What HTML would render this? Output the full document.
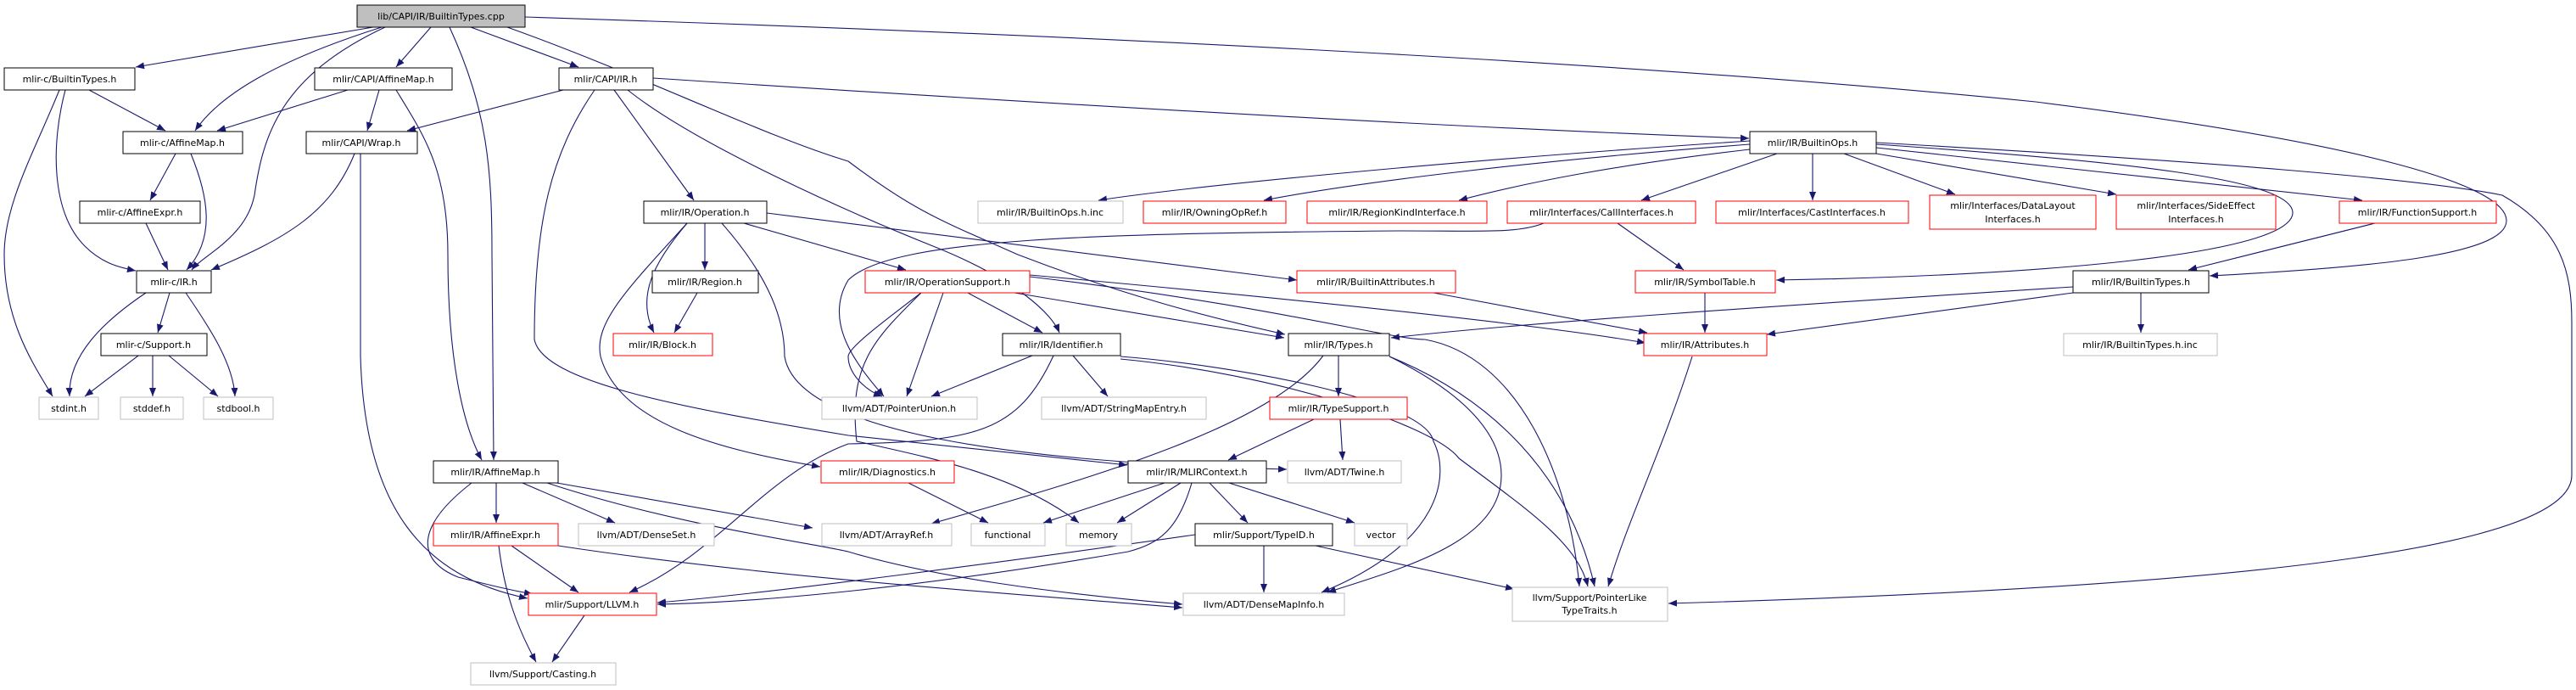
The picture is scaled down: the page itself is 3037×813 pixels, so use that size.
<!DOCTYPE html>
<html><head><meta charset="utf-8"><style>
html,body{margin:0;padding:0;background:#fff;}
svg{display:block;}
text{font-family:"DejaVu Sans","Liberation Sans",sans-serif;font-size:11px;fill:#000;text-anchor:middle;}
.e{fill:none;stroke:#191970;stroke-width:1.1;marker-end:url(#a);}
.b{fill:#fff;stroke:#000;stroke-width:1;}
.r{fill:#fff;stroke:#ff0000;stroke-width:1;}
.g{fill:#fff;stroke:#bfbfbf;stroke-width:1;}
</style></head><body>
<svg width="3037" height="813" viewBox="0 0 3037 813" xmlns="http://www.w3.org/2000/svg">
<defs><marker id="a" markerWidth="10" markerHeight="8" refX="10" refY="4" orient="auto" markerUnits="userSpaceOnUse"><path d="M0,0 L10,4 L0,8 z" fill="#191970"/></marker></defs>

<g>
<path class="e" d="M440,32 L160,79"/>
<path class="e" d="M450,32 C330,70 260,110 230,154"/>
<path class="e" d="M454,32 C330,90 310,160 300,230 C290,280 240,300 226,318"/>
<path class="e" d="M508,32 L467,79"/>
<path class="e" d="M530,32 C575,130 580,200 580,300 L582,542"/>
<path class="e" d="M555,32 L682,79"/>
<path class="e" d="M598,32 C760,90 900,160 1000,190 C1080,250 1110,260 1200,300 C1330,350 1430,375 1515,394"/>
<path class="e" d="M619,20 C1400,45 2000,80 2400,120 C2800,170 2955,220 2955,260 C2955,300 2800,315 2605,325"/>
<path class="e" d="M105,106 L195,154"/>
<path class="e" d="M77,106 C60,170 60,250 100,290 C120,310 140,315 160,319"/>
<path class="e" d="M70,106 C40,180 5,240 5,300 C5,380 40,430 62,467"/>
<path class="e" d="M410,106 L256,154"/>
<path class="e" d="M447,106 L433,154"/>
<path class="e" d="M467,106 C500,160 528,200 528,300 C528,420 545,500 568,542"/>
<path class="e" d="M664,106 L480,154"/>
<path class="e" d="M724,106 L818,236"/>
<path class="e" d="M740,106 C820,170 1000,250 1100,290 C1200,330 1240,370 1249,392"/>
<path class="e" d="M770,92 C1200,120 1700,150 2062,163"/>
<path class="e" d="M701,106 C650,180 630,260 630,400 C640,450 800,480 1000,513 C1150,530 1250,540 1329,548"/>
<path class="e" d="M418,181 C390,250 340,280 249,318"/>
<path class="e" d="M425,181 L425,420 C430,600 500,680 622,705"/>
<path class="e" d="M207,181 L177,236"/>
<path class="e" d="M225,181 C245,230 255,280 220,318"/>
<path class="e" d="M172,263 L198,318"/>
<path class="e" d="M172,345 C120,380 80,420 82,467"/>
<path class="e" d="M200,345 L186,392"/>
<path class="e" d="M219,345 C250,390 275,430 277,467"/>
<path class="e" d="M163,419 L100,467"/>
<path class="e" d="M180,419 L180,467"/>
<path class="e" d="M199,419 L257,467"/>
<path class="e" d="M831,263 L831,318"/>
<path class="e" d="M810,263 C770,310 750,350 771,392"/>
<path class="e" d="M822,345 L795,392"/>
<path class="e" d="M810,263 C740,340 700,380 708,420 C730,500 850,530 967,550"/>
<path class="e" d="M851,263 C910,330 925,380 925,420 C940,510 1200,545 1517,553"/>
<path class="e" d="M877,263 L1068,318"/>
<path class="e" d="M904,251 L1529,330"/>
<path class="e" d="M2063,166 C1700,190 1400,220 1295,236"/>
<path class="e" d="M2063,170 C1800,190 1600,215 1490,236"/>
<path class="e" d="M2063,176 C1900,195 1800,215 1720,236"/>
<path class="e" d="M2095,181 L1935,236"/>
<path class="e" d="M2137,181 L2137,236"/>
<path class="e" d="M2174,181 L2305,229"/>
<path class="e" d="M2212,181 L2495,229"/>
<path class="e" d="M2212,174 L2785,236"/>
<path class="e" d="M2212,170 C2500,190 2700,210 2703,250 C2705,300 2400,325 2094,330"/>
<path class="e" d="M2212,168 C2600,190 2850,210 2950,230 C3020,270 3032,320 3032,380 L3032,560 C3032,640 2700,690 1967,711"/>
<path class="e" d="M1907,263 L1985,318"/>
<path class="e" d="M1820,263 C1790,275 1750,272 1650,272 C1300,275 1050,280 1000,330 C970,380 1010,430 1042,467"/>
<path class="e" d="M1112,345 L1069,467"/>
<path class="e" d="M1141,345 L1229,392"/>
<path class="e" d="M1196,345 L1514,398"/>
<path class="e" d="M1214,324 C1500,350 1800,380 1940,404"/>
<path class="e" d="M1214,326 C1500,360 1640,400 1680,400 C1790,420 1850,560 1862,691"/>
<path class="e" d="M1086,345 C1040,380 1000,410 1000,420 C1000,440 1020,460 1040,467"/>
<path class="e" d="M1086,345 C1030,400 1000,430 1010,520 C1100,540 1200,560 1272,616"/>
<path class="e" d="M1217,419 L1098,467"/>
<path class="e" d="M1265,419 L1306,467"/>
<path class="e" d="M1242,419 C1200,510 1150,520 1000,523 C900,560 850,650 742,698"/>
<path class="e" d="M1321,420 C1450,430 1680,470 1690,520 C1710,560 1700,640 1558,698"/>
<path class="e" d="M1321,423 C1500,440 1690,500 1720,540 C1800,600 1860,640 1872,691"/>
<path class="e" d="M1578,419 L1578,467"/>
<path class="e" d="M1560,419 C1500,500 1300,560 1098,617"/>
<path class="e" d="M1638,420 C1760,470 1850,560 1880,691"/>
<path class="e" d="M1638,420 C1740,470 1770,520 1770,560 C1770,640 1650,670 1565,698"/>
<path class="e" d="M2444,338 C2100,360 1800,380 1640,398"/>
<path class="e" d="M2444,345 L2083,394"/>
<path class="e" d="M2524,345 L2524,392"/>
<path class="e" d="M1995,420 C1960,530 1920,610 1896,691"/>
<path class="e" d="M1690,345 L1942,392"/>
<path class="e" d="M2010,345 L2010,392"/>
<path class="e" d="M2800,263 L2580,318"/>
<path class="e" d="M1549,494 L1448,542"/>
<path class="e" d="M1580,494 L1583,542"/>
<path class="e" d="M1373,569 L1230,616"/>
<path class="e" d="M1392,569 L1317,616"/>
<path class="e" d="M1426,569 L1471,616"/>
<path class="e" d="M1449,569 L1597,616"/>
<path class="e" d="M1405,569 C1390,620 1370,640 1330,650 C1100,690 900,710 775,712"/>
<path class="e" d="M1071,569 L1165,616"/>
<path class="e" d="M1409,630 C1200,660 900,700 775,710"/>
<path class="e" d="M1490,643 L1490,698"/>
<path class="e" d="M1551,643 L1785,694"/>
<path class="e" d="M585,569 L585,616"/>
<path class="e" d="M616,569 L725,616"/>
<path class="e" d="M645,567 L958,622"/>
<path class="e" d="M645,569 C800,620 960,640 1000,650 C1100,680 1250,700 1394,712"/>
<path class="e" d="M556,569 C490,620 490,660 540,680 C580,690 600,695 628,700"/>
<path class="e" d="M603,643 L682,698"/>
<path class="e" d="M588,643 C595,700 610,740 632,780"/>
<path class="e" d="M658,643 C900,680 1200,700 1394,716"/>
<path class="e" d="M689,725 L651,780"/>
</g>

<g>
<rect x="421" y="6" width="198" height="26" fill="#bfbfbf" stroke="#000"/><text x="520" y="23">lib/CAPI/IR/BuiltinTypes.cpp</text>
<rect class="b" x="5" y="80" width="154" height="26"/><text x="82" y="97">mlir-c/BuiltinTypes.h</text>
<rect class="b" x="371" y="80" width="162" height="26"/><text x="452" y="97">mlir/CAPI/AffineMap.h</text>
<rect class="b" x="659" y="80" width="111" height="26"/><text x="714" y="97">mlir/CAPI/IR.h</text>
<rect class="b" x="145" y="155" width="141" height="26"/><text x="215" y="172">mlir-c/AffineMap.h</text>
<rect class="b" x="361" y="155" width="131" height="26"/><text x="426" y="172">mlir/CAPI/Wrap.h</text>
<rect class="b" x="2063" y="155" width="149" height="26"/><text x="2137" y="172">mlir/IR/BuiltinOps.h</text>
<rect class="b" x="94" y="237" width="142" height="26"/><text x="165" y="254">mlir-c/AffineExpr.h</text>
<rect class="b" x="759" y="237" width="145" height="26"/><text x="831" y="254">mlir/IR/Operation.h</text>
<rect class="g" x="1153" y="237" width="171" height="26"/><text x="1238" y="254">mlir/IR/BuiltinOps.h.inc</text>
<rect class="r" x="1348" y="237" width="168" height="26"/><text x="1432" y="254">mlir/IR/OwningOpRef.h</text>
<rect class="r" x="1541" y="237" width="212" height="26"/><text x="1647" y="254">mlir/IR/RegionKindInterface.h</text>
<rect class="r" x="1777" y="237" width="222" height="26"/><text x="1888" y="254">mlir/Interfaces/CallInterfaces.h</text>
<rect class="r" x="2023" y="237" width="227" height="26"/><text x="2136" y="254">mlir/Interfaces/CastInterfaces.h</text>
<rect class="r" x="2275" y="230" width="196" height="40"/><text x="2373" y="246">mlir/Interfaces/DataLayout</text><text x="2373" y="262">Interfaces.h</text>
<rect class="r" x="2495" y="230" width="188" height="40"/><text x="2589" y="246">mlir/Interfaces/SideEffect</text><text x="2589" y="262">Interfaces.h</text>
<rect class="r" x="2758" y="237" width="185" height="26"/><text x="2850" y="254">mlir/IR/FunctionSupport.h</text>
<rect class="b" x="161" y="319" width="88" height="26"/><text x="205" y="336">mlir-c/IR.h</text>
<rect class="b" x="769" y="319" width="125" height="26"/><text x="831" y="336">mlir/IR/Region.h</text>
<rect class="r" x="1020" y="319" width="194" height="26"/><text x="1117" y="336">mlir/IR/OperationSupport.h</text>
<rect class="r" x="1529" y="319" width="187" height="26"/><text x="1622" y="336">mlir/IR/BuiltinAttributes.h</text>
<rect class="r" x="1928" y="319" width="165" height="26"/><text x="2010" y="336">mlir/IR/SymbolTable.h</text>
<rect class="b" x="2444" y="319" width="160" height="26"/><text x="2524" y="336">mlir/IR/BuiltinTypes.h</text>
<rect class="b" x="119" y="393" width="125" height="26"/><text x="181" y="410">mlir-c/Support.h</text>
<rect class="r" x="723" y="393" width="117" height="26"/><text x="781" y="410">mlir/IR/Block.h</text>
<rect class="b" x="1182" y="393" width="139" height="26"/><text x="1251" y="410">mlir/IR/Identifier.h</text>
<rect class="b" x="1519" y="393" width="119" height="26"/><text x="1578" y="410">mlir/IR/Types.h</text>
<rect class="r" x="1938" y="393" width="145" height="26"/><text x="2010" y="410">mlir/IR/Attributes.h</text>
<rect class="g" x="2433" y="393" width="181" height="26"/><text x="2523" y="410">mlir/IR/BuiltinTypes.h.inc</text>
<rect class="g" x="46" y="468" width="70" height="26"/><text x="81" y="485">stdint.h</text>
<rect class="g" x="142" y="468" width="74" height="26"/><text x="179" y="485">stddef.h</text>
<rect class="g" x="240" y="468" width="82" height="26"/><text x="281" y="485">stdbool.h</text>
<rect class="g" x="969" y="468" width="183" height="26"/><text x="1060" y="485">llvm/ADT/PointerUnion.h</text>
<rect class="g" x="1228" y="468" width="194" height="26"/><text x="1325" y="485">llvm/ADT/StringMapEntry.h</text>
<rect class="r" x="1497" y="468" width="162" height="26"/><text x="1578" y="485">mlir/IR/TypeSupport.h</text>
<rect class="b" x="511" y="543" width="147" height="26"/><text x="584" y="560">mlir/IR/AffineMap.h</text>
<rect class="r" x="968" y="543" width="157" height="26"/><text x="1046" y="560">mlir/IR/Diagnostics.h</text>
<rect class="b" x="1330" y="543" width="163" height="26"/><text x="1411" y="560">mlir/IR/MLIRContext.h</text>
<rect class="g" x="1518" y="543" width="134" height="26"/><text x="1585" y="560">llvm/ADT/Twine.h</text>
<rect class="r" x="511" y="617" width="147" height="26"/><text x="584" y="634">mlir/IR/AffineExpr.h</text>
<rect class="g" x="682" y="617" width="160" height="26"/><text x="762" y="634">llvm/ADT/DenseSet.h</text>
<rect class="g" x="969" y="617" width="153" height="26"/><text x="1045" y="634">llvm/ADT/ArrayRef.h</text>
<rect class="g" x="1145" y="617" width="87" height="26"/><text x="1188" y="634">functional</text>
<rect class="g" x="1257" y="617" width="77" height="26"/><text x="1295" y="634">memory</text>
<rect class="b" x="1409" y="617" width="162" height="26"/><text x="1490" y="634">mlir/Support/TypeID.h</text>
<rect class="g" x="1597" y="617" width="62" height="26"/><text x="1628" y="634">vector</text>
<rect class="r" x="623" y="699" width="151" height="26"/><text x="698" y="716">mlir/Support/LLVM.h</text>
<rect class="g" x="1395" y="699" width="190" height="26"/><text x="1490" y="716">llvm/ADT/DenseMapInfo.h</text>
<rect class="g" x="1783" y="692" width="183" height="40"/><text x="1874" y="708">llvm/Support/PointerLike</text><text x="1874" y="723">TypeTraits.h</text>
<rect class="g" x="555" y="781" width="171" height="26"/><text x="640" y="798">llvm/Support/Casting.h</text>
</g>
</svg>
</body></html>
